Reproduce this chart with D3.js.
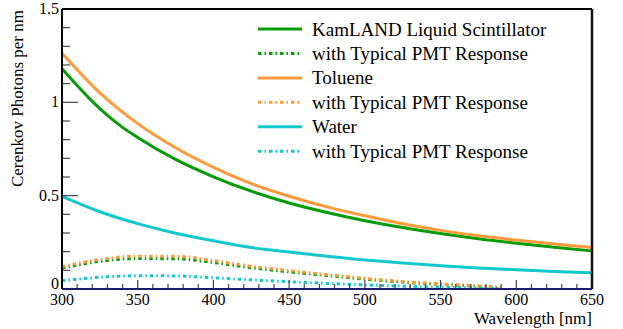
<!DOCTYPE html>
<html><head><meta charset="utf-8">
<script src="https://cdn.jsdelivr.net/npm/d3@7"></script>
<style>body{margin:0;background:#fff}svg{display:block}</style>
</head><body><svg id="c" width="623" height="329"></svg>
<script>
const wavelengths = [300,325,350,375,400,425,450,475,500,525,550,575,600,625,650];
const klsWave = [300,310,320,330,340,350,375,400,425,450,475,500,525,550,575,600,625,650];
const klsSolid = [1.18,1.09,1.005,0.93,0.866,0.812,0.694,0.601,0.524,0.461,0.410,0.366,0.329,0.297,0.269,0.245,0.224,0.204];
const tolueneSolid = [1.263,1.051,0.886,0.757,0.652,0.565,0.497,0.440,0.392,0.350,0.314,0.285,0.262,0.241,0.222];
const waterSolid = [0.496,0.414,0.350,0.299,0.258,0.222,0.198,0.175,0.155,0.139,0.125,0.113,0.103,0.094,0.086];
const pmtWave = [300,325,350,375,400,425,450,475,500,525,550,575,590];
const klsPMT = [0.112,0.148,0.163,0.162,0.142,0.114,0.092,0.072,0.053,0.037,0.025,0.015,0.007];
const toluenePMT = [0.120,0.158,0.176,0.176,0.152,0.122,0.099,0.077,0.057,0.040,0.027,0.016,0.008];
const waterPMT = [0.045,0.063,0.071,0.070,0.060,0.049,0.039,0.030,0.022,0.015,0.009,0.005,0.002];
const xTicks = [300,350,400,450,500,550,600,650];
const yTicks = [0,0.5,1,1.5];
const legendLabels = ["KamLAND Liquid Scintillator","with Typical PMT Response","Toluene","with Typical PMT Response","Water","with Typical PMT Response"];

const green="#079b07", orange="#ff9a3c", cyan="#12c8cc";
const dash="3.5,3,1.5,3";
const svg=d3.select("#c");
const L=62,R=592,T=9,B=289;
const x=d3.scaleLinear().domain([300,650]).range([L,R]);
const y=d3.scaleLinear().domain([0,1.5]).range([B,T]);

svg.append("defs").append("clipPath").attr("id","clip").append("rect").attr("x",L).attr("y",T).attr("width",R-L).attr("height",B-T);

const series=[
 {w:klsWave,v:klsSolid,c:green,d:null},
 {w:pmtWave,v:klsPMT,c:green,d:dash},
 {w:wavelengths,v:tolueneSolid,c:orange,d:null},
 {w:pmtWave,v:toluenePMT,c:orange,d:dash},
 {w:wavelengths,v:waterSolid,c:cyan,d:null},
 {w:pmtWave,v:waterPMT,c:cyan,d:dash}
];
const line=d3.line().x(d=>x(d[0])).y(d=>y(d[1])).curve(d3.curveMonotoneX);
const g=svg.append("g").attr("clip-path","url(#clip)");
series.forEach(s=>{
  g.append("path").datum(s.w.map((w,i)=>[w,s.v[i]]))
   .attr("d",line).attr("fill","none").attr("stroke",s.c).attr("stroke-width",3)
   .attr("stroke-dasharray",s.d);
});

const tk=svg.append("g").attr("stroke","#444").attr("stroke-width",1.2);
d3.range(0,1.5001,0.1).forEach(v=>{
  const major=yTicks.some(t=>Math.abs(t-v)<1e-6);
  tk.append("line").attr("x1",L).attr("x2",L+(major?16:8)).attr("y1",y(v)).attr("y2",y(v));
});
d3.range(300,650.1,10).forEach(v=>{
  const major=xTicks.includes(Math.round(v));
  tk.append("line").attr("y1",B).attr("y2",B-(major?9:5)).attr("x1",x(v)).attr("x2",x(v));
});
svg.append("line").attr("x1",L).attr("x2",R).attr("y1",T).attr("y2",T).attr("stroke","#000").attr("stroke-width",2);
svg.append("line").attr("x1",L).attr("x2",L).attr("y1",T).attr("y2",B).attr("stroke","#000").attr("stroke-width",2);
svg.append("line").attr("x1",R).attr("x2",R).attr("y1",T).attr("y2",B).attr("stroke","#111").attr("stroke-width",2.5);
svg.append("line").attr("x1",L).attr("x2",R).attr("y1",B).attr("y2",B).attr("stroke","#1b1b6b").attr("stroke-width",2);

function txt(size){return svg.append("text").style("font-size",size+"px").attr("fill","#000");}
yTicks.forEach(v=>{
  txt(16).attr("x",L-3).attr("y",v===0?B:y(v)+5).attr("text-anchor","end").text(v);
});
xTicks.forEach(v=>{
  txt(16).attr("x",x(v)).attr("y",305).attr("text-anchor","middle").text(v);
});
txt(17).attr("x",R).attr("y",324).attr("text-anchor","end").text("Wavelength [nm]");
txt(17).attr("transform","translate(23,10) rotate(-90)").attr("text-anchor","end").text("Cerenkov Photons per nm");

legendLabels.forEach((t,i)=>{
  const by=35.5+i*24.45;
  const s=series[i];
  svg.append("line").attr("x1",258).attr("x2",302).attr("y1",by-6.5).attr("y2",by-6.5)
    .attr("stroke",s.c).attr("stroke-width",3).attr("stroke-dasharray",s.d);
  txt(19).attr("x",312).attr("y",by).text(t);
});
</script></body></html>
